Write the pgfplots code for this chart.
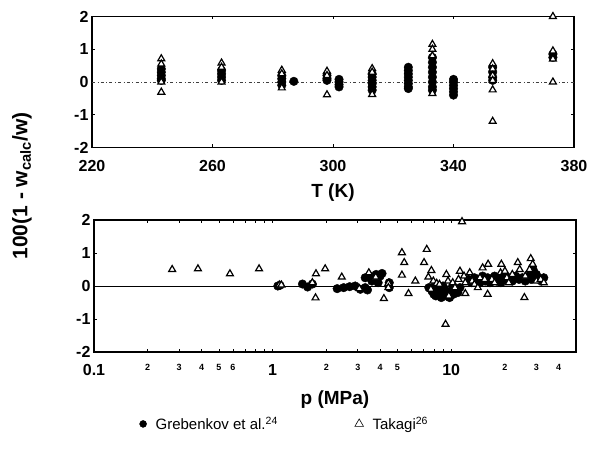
\documentclass[border=0pt]{standalone}
\usepackage{pgfplots}
\pgfplotsset{compat=1.18}
\usepackage{fontspec}
\setmainfont{Liberation Sans}
\begin{document}
\begin{tikzpicture}
\useasboundingbox (0pt,-449pt) rectangle (589pt,0pt);
\pgfplotsset{
  common/.style={
    scale only axis,
    clip=false,
    axis line style={line width=1.1pt},
    tick style={black, line width=0.6pt},
    tick align=inside,
    major tick length=3pt,
    ticklabel style={font=\fontsize{16}{16}\selectfont\bfseries},
    xticklabel style={yshift=-9pt},
    /pgf/number format/assume math mode=true,
    ymin=-2, ymax=2, ytick={-2,-1,0,1,2},
    xlabel style={font=\fontsize{19}{19}\selectfont\bfseries},
  },
  gre/.style={only marks, mark=*, mark size=4.3pt, black},
  tak/.style={only marks, mark=triangle*, mark size=4pt, mark options={fill=white, draw=black, line width=1.2pt}},
}
% ---------------- top: vs T ----------------
\begin{axis}[common,
  at={(92pt,-16.5pt)}, anchor=north west, width=482pt, height=131pt,
  xmin=220, xmax=380, xtick={220,260,300,340,380},
  extra y ticks={0}, extra y tick labels={},
  extra y tick style={grid=major, major tick length=0pt,
     major grid style={black!75, line width=0.5pt, dash pattern=on 3pt off 2.5pt on 0.7pt off 2.5pt}},
  xlabel={T (K)}, xlabel style={yshift=-5pt},
]
\addplot[gre] table {
T d
243 0.40
243 0.30
243 0.20
243 0.10
243 0.05
263 0.35
263 0.25
263 0.15
263 0.05
283 0.20
283 0.10
283 0.00
283 -0.10
287 0.02
298 0.20
298 0.10
298 0.05
302 0.08
302 0.00
302 -0.08
302 -0.15
313 0.25
313 0.15
313 0.05
313 -0.05
313 -0.15
313 -0.25
325 0.45
325 0.35
325 0.25
325 0.15
325 0.05
325 -0.05
325 -0.15
325 -0.20
333 0.75
333 0.60
333 0.45
333 0.30
333 0.15
333 0.00
333 -0.15
333 -0.25
340 0.08
340 0.00
340 -0.10
340 -0.20
340 -0.30
340 -0.40
353 0.45
353 0.30
353 0.15
353 0.05
373 0.85
373 0.75
};
\addplot[tak] table {
T d
243 0.71
243 0.55
243 0.00
243 -0.31
263 0.58
263 0.45
263 0.00
283 0.36
283 0.25
283 -0.18
298 0.33
298 0.20
298 -0.39
313 0.41
313 0.30
313 -0.38
333 1.15
333 1.00
333 0.80
333 -0.35
353 0.56
353 0.40
353 0.20
353 0.05
353 -0.24
353 -1.20
373 2.00
373 0.95
373 0.70
373 0.00
};
\end{axis}
% ---------------- bottom: vs p ----------------
\begin{axis}[common,
  at={(94pt,-220pt)}, anchor=north west, width=482pt, height=132pt,
  xmode=log, xmin=0.1, xmax=50,
  xtick={0.1,1,10}, xticklabels={0.1,1,10},
  minor xtick={},
  extra x ticks={0.2,0.3,0.4,0.5,0.6,2,3,4,5,20,30,40},
  extra x tick labels={2,3,4,5,6,2,3,4,5,2,3,4},
  extra x tick style={major tick length=0pt,
     ticklabel style={font=\fontsize{9}{9}\selectfont\bfseries}},
  extra y ticks={0}, extra y tick labels={},
  extra y tick style={grid=major, major tick length=0pt,
     major grid style={black, line width=0.6pt}},
  xlabel={p (MPa)}, xlabel style={yshift=-8pt},
  legend columns=2,
  legend style={draw=none, fill=none, at={(0.088,-0.545)}, anchor=west,
     font=\fontsize{15}{16}\selectfont,
     /tikz/every odd column/.append style={column sep=7pt},
     /tikz/every even column/.append style={column sep=75pt}},
]
\addplot[gre, forget plot] table {
p d
1.07 0.00
1.10 0.02
1.47 0.06
1.57 -0.03
1.67 0.06
2.30 -0.08
2.50 -0.05
2.70 -0.02
2.90 0.00
3.10 -0.10
3.30 -0.05
3.40 -0.12
3.30 0.25
3.50 0.30
3.60 0.15
3.80 0.35
3.90 0.10
4.00 0.30
4.10 0.38
4.50 -0.05
4.50 0.10
7.50 -0.05
7.80 -0.15
8.00 -0.25
8.10 0.00
8.20 -0.30
8.40 -0.10
8.60 -0.20
8.80 -0.35
9.00 -0.25
9.00 0.00
9.20 -0.10
9.40 -0.30
9.60 -0.20
9.80 -0.35
10.0 -0.15
10.2 0.00
10.3 -0.25
10.6 -0.10
10.9 -0.20
11.2 -0.05
12.5 0.20
13.0 0.10
13.5 0.25
14.0 0.20
14.5 0.10
15.0 0.30
15.5 0.15
16.0 0.25
16.5 0.10
17.0 0.20
17.5 0.30
18.0 0.15
18.5 0.25
19.0 0.10
19.5 0.30
20.0 0.20
21.0 0.25
22.0 0.15
23.0 0.30
24.0 0.20
25.0 0.25
26.0 0.15
27.0 0.30
28.0 0.20
28.5 0.55
29.0 0.45
29.0 0.25
30.0 0.35
31.0 0.20
32.0 0.15
33.0 0.25
};
\addplot[tak, forget plot] table {
p d
0.274 0.50
0.382 0.52
0.577 0.37
0.840 0.52
1.09 0.03
1.12 0.03
1.67 0.10
1.75 0.37
1.74 -0.36
1.97 0.52
2.44 0.27
3.06 -0.08
3.46 0.40
3.78 0.27
4.20 -0.38
4.45 0.08
4.45 -0.05
5.30 1.01
5.46 0.71
5.30 0.33
5.77 -0.23
6.30 0.15
7.30 1.11
7.05 0.71
7.75 0.47
7.45 0.27
7.95 0.15
7.70 -0.10
8.30 0.08
8.60 0.05
9.40 0.35
9.60 0.15
9.30 -1.16
9.70 -0.30
10.2 0.10
10.5 -0.05
11.5 1.95
11.2 0.45
11.0 0.20
11.8 0.30
12.0 0.10
12.0 -0.23
12.7 0.40
13.1 0.15
13.5 0.05
14.1 -0.05
14.5 0.25
15.0 0.55
15.4 0.20
16.1 0.66
16.0 -0.25
16.9 0.20
17.5 0.10
18.9 0.40
19.1 0.66
20.0 0.45
20.5 0.25
21.0 0.10
22.0 0.35
23.6 0.71
24.2 0.50
25.7 -0.35
26.0 0.30
27.5 0.50
27.9 0.83
28.6 0.66
30.0 0.15
31.7 0.20
33.0 0.10
};
\addlegendimage{only marks, mark=*, mark size=3.5pt, black}
\addlegendentry{Grebenkov et al.\textsuperscript{24}}
\addlegendimage{only marks, mark=triangle, mark size=5pt, black, line width=0.6pt}
\addlegendentry{Takagi\textsuperscript{26}}
\end{axis}
\node[rotate=90, font=\fontsize{21}{21}\selectfont\bfseries] at (22pt,-186pt)
  {100(1 - w\textsubscript{calc}/w)};
\end{tikzpicture}
\end{document}
